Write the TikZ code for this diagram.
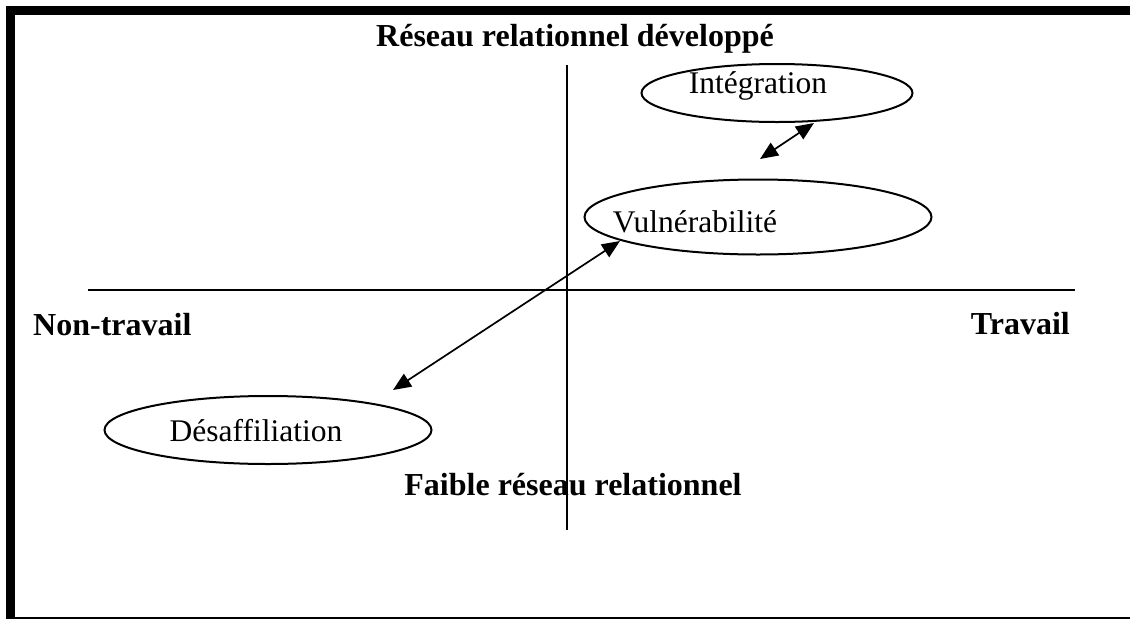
\documentclass[tikz,border=0pt]{standalone}
\usepackage{fontspec}
\setmainfont{Liberation Serif}
\usetikzlibrary{shapes.geometric,arrows.meta}
\begin{document}
\begin{tikzpicture}[x=1pt,y=-1pt,
  oval/.style={draw,ellipse,line width=2pt,inner sep=0pt},
  lbl/.style={font=\fontsize{31.5}{37}\selectfont,inner sep=0pt,anchor=base},
  axlbl/.style={font=\fontsize{32}{38}\selectfont\bfseries,inner sep=0pt,anchor=base},
  axisline/.style={line width=2.8pt},
  dbl/.style={line width=1.7pt,{Triangle[length=18pt,width=15pt]}-{Triangle[length=18pt,width=15pt]}}]
\useasboundingbox (0,0) rectangle (1130,619);
\fill[white] (0,0) rectangle (1130,619);
% frame
\draw[line width=9pt,line cap=butt,line join=miter] (1130,10.5) -- (10.5,10.5) -- (10.5,619);
\draw[line width=2pt] (15,617.5) -- (1130,617.5);
% axes
\coordinate (xl) at (88,290);
\coordinate (xr) at (1075,290);
\coordinate (yt) at (567,65);
\coordinate (yb) at (567,530);
\draw[axisline] (xl) -- (xr);
\draw[axisline] (yt) -- (yb);
% axis labels
\node[axlbl] (top) at (575,46) {Réseau relationnel développé};
\node[axlbl] (bot) at (573,495) {Faible réseau relationnel};
\node[axlbl,anchor=base west] (left) at (33,335) {Non-travail};
\node[axlbl,anchor=base east] (right) at (1070,334) {Travail};
% ellipses
\node[oval,minimum width=271pt,minimum height=58pt] (integ) at (777,93) {};
\node[lbl] (integT) at (758,93) {Intégration};
\node[oval,minimum width=347pt,minimum height=75pt] (vuln) at (758,217) {};
\node[lbl] (vulnT) at (695,232) {Vulnérabilité};
\node[oval,minimum width=327pt,minimum height=68pt] (desaf) at (268,430) {};
\node[lbl] (desafT) at (256,441) {Désaffiliation};
% arrows
\coordinate (a1) at (760,159);
\coordinate (a2) at (814,123);
\coordinate (b1) at (620,241);
\coordinate (b2) at (393,390);
\draw[dbl] (a1) -- (a2);
\draw[dbl] (b2) -- (b1);
\end{tikzpicture}
\end{document}
